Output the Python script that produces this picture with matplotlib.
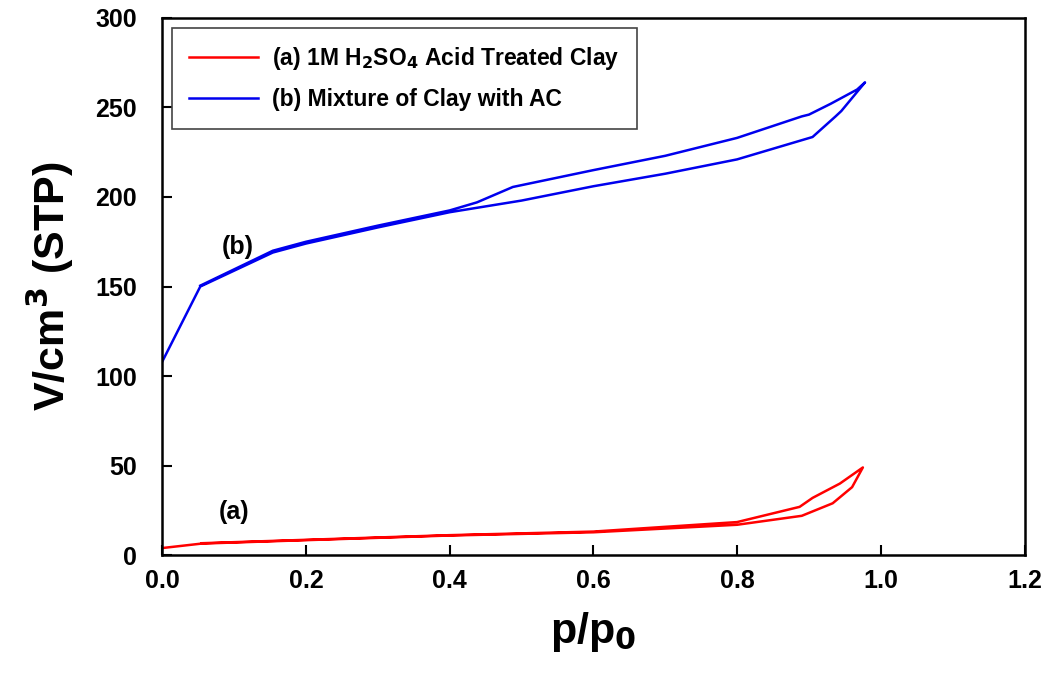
import matplotlib
matplotlib.use("Agg")
import matplotlib.pyplot as plt

plt.rcParams['font.family'] = ['Liberation Sans', 'DejaVu Sans']
plt.rcParams['font.weight'] = 'bold'

# (a) arcilla tratada con acido: adsorcion (rama inferior) y desorcion (rama superior)
p_a_ads = [0.0, 0.055, 0.2, 0.4, 0.6, 0.8, 0.89, 0.933, 0.96, 0.975]
v_a_ads = [4.0, 6.5, 8.4, 11.0, 12.8, 17.0, 22.0, 29.0, 38.0, 49.0]
p_a_des = [0.975, 0.943, 0.905, 0.887, 0.8, 0.6, 0.4, 0.2, 0.055]
v_a_des = [49.0, 40.0, 32.0, 27.0, 18.5, 13.2, 11.2, 8.6, 6.7]

# (b) mezcla de arcilla con carbon activado
p_b_ads = [0.0, 0.053, 0.154, 0.2, 0.3, 0.4, 0.5, 0.6, 0.7, 0.8, 0.905, 0.937, 0.945, 0.978]
v_b_ads = [108.0, 150.0, 169.0, 174.0, 183.0, 191.5, 198.0, 206.0, 213.0, 221.0, 233.5, 245.0, 248.0, 264.0]
p_b_des = [0.978, 0.967, 0.93, 0.9, 0.89, 0.8, 0.7, 0.6, 0.488, 0.438, 0.4, 0.3, 0.2, 0.154, 0.053]
v_b_des = [264.0, 260.0, 252.0, 246.0, 245.0, 233.0, 223.0, 215.0, 205.6, 197.0, 192.5, 184.0, 175.0, 170.0, 150.5]

fig = plt.figure(figsize=(10.53, 6.88), dpi=100)
ax = fig.add_axes([0.154, 0.193, 0.819, 0.781])

ax.plot(p_a_ads + p_a_des, v_a_ads + v_a_des, color='#ff0000', lw=1.8,
        label=r'(a) 1M H$_\mathbf{2}$SO$_\mathbf{4}$ Acid Treated Clay')
ax.plot(p_b_ads + p_b_des, v_b_ads + v_b_des, color='#0000ee', lw=1.8,
        label='(b) Mixture of Clay with AC')

ax.text(0.105, 172, '(b)', fontsize=18, fontweight='bold', ha='center', va='center')
ax.text(0.10, 24, '(a)', fontsize=18, fontweight='bold', ha='center', va='center')

ax.set_xlim(0, 1.2)
ax.set_ylim(0, 300)
ax.set_xticks([0.0, 0.2, 0.4, 0.6, 0.8, 1.0, 1.2])
ax.set_yticks([0, 50, 100, 150, 200, 250, 300])
ax.set_xticklabels(['0.0', '0.2', '0.4', '0.6', '0.8', '1.0', '1.2'])
ax.tick_params(direction='in', length=7, width=1.5, labelsize=18)
ax.tick_params(axis='x', pad=10)
ax.tick_params(axis='y', pad=18)
for s in ax.spines.values():
    s.set_linewidth(1.8)

ax.set_xlabel(r'p/p$_\mathbf{0}$', fontsize=31, fontweight='bold', labelpad=12)
ax.set_ylabel(r'V/cm$^\mathbf{3}$ (STP)', fontsize=31, fontweight='bold', labelpad=14)

leg = ax.legend(loc='upper left', bbox_to_anchor=(0.0116, 0.981), borderaxespad=0,
                fontsize=16.5, fancybox=False, edgecolor='#444444', framealpha=1,
                handlelength=3.0, handletextpad=0.6, borderpad=0.75, labelspacing=0.7)
leg.get_frame().set_linewidth(1.2)

fig.savefig('out.png', dpi=100)
